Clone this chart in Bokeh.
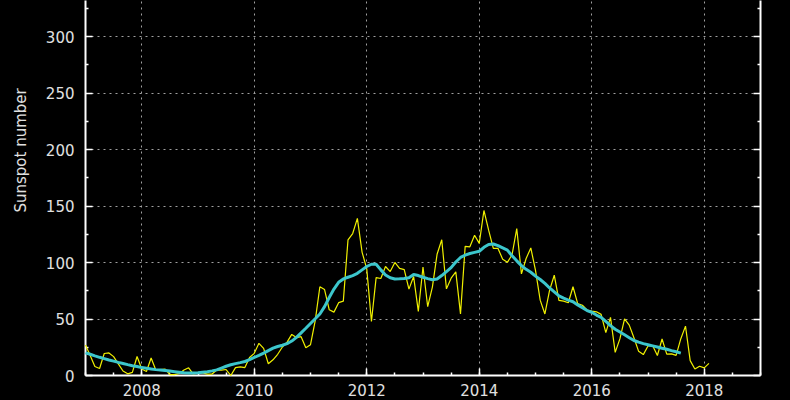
from bokeh.plotting import figure
from bokeh.models import Range1d, LinearAxis, SingleIntervalTicker, FixedTicker, CustomJSTickFormatter, Title
from bokeh.embed import file_html
from bokeh.resources import INLINE

start_year = 2007  # first month: January 2007

# Monthly mean total sunspot number, Jan 2007 .. Feb 2018
monthly_ssn = [
    27.0, 17.7, 8.0, 6.2, 19.5, 20.0, 16.7, 10.3, 4.0, 1.5, 2.8, 16.8,        # 2007
    5.7, 3.5, 15.5, 4.8, 5.3, 5.7, 0.8, 0.8, 1.8, 4.8, 6.8, 1.3,              # 2008
    2.2, 2.3, 1.2, 1.3, 4.8, 4.8, 5.3, 0.0, 7.0, 7.7, 7.0, 15.9,              # 2009
    19.6, 28.5, 24.0, 10.4, 13.9, 18.8, 25.2, 29.6, 36.4, 33.6, 34.4, 24.5,   # 2010
    27.3, 48.3, 78.6, 76.1, 58.2, 56.1, 64.5, 65.8, 120.1, 125.7, 139.1, 109.3,  # 2011
    94.4, 47.8, 86.6, 85.9, 96.5, 92.0, 100.1, 94.8, 93.7, 76.5, 87.6, 56.8,  # 2012
    96.1, 60.9, 78.3, 107.3, 120.2, 76.7, 86.2, 91.8, 54.5, 114.4, 113.9, 124.2,  # 2013
    117.0, 146.1, 128.7, 112.5, 112.5, 102.9, 100.2, 106.9, 130.0, 90.0, 103.6, 112.9,  # 2014
    93.0, 66.7, 54.5, 75.3, 88.8, 66.5, 65.8, 64.4, 78.6, 63.6, 62.2, 58.0,   # 2015
    57.0, 56.4, 54.1, 37.9, 51.5, 20.5, 32.4, 50.2, 44.6, 33.4, 21.4, 18.5,   # 2016
    26.1, 26.4, 17.7, 32.3, 18.9, 19.2, 17.8, 32.6, 43.7, 13.2, 5.7, 8.2,     # 2017
    6.8, 10.7,                                                                # 2018
]

# 13-month smoothed sunspot number, Jan 2007 .. Aug 2017
smoothed_ssn = [
    20.0, 18.8, 17.4, 16.1, 14.9, 13.7, 12.7, 11.6, 10.6, 9.6, 8.7, 7.9,      # 2007
    7.0, 6.4, 5.8, 5.2, 4.8, 4.4, 3.9, 3.4, 2.9, 2.4, 2.2, 2.2,               # 2008
    2.4, 2.9, 3.4, 4.1, 5.0, 6.6, 8.2, 9.5, 10.5, 11.4, 12.4, 14.0,          # 2009
    16.0, 17.8, 19.8, 22.0, 24.2, 25.7, 26.8, 28.2, 30.5, 33.8, 37.8, 41.8,  # 2010
    46.0, 50.2, 54.5, 61.0, 69.0, 76.5, 82.5, 85.5, 87.0, 88.5, 90.5, 93.5,  # 2011
    96.5, 98.5, 98.5, 93.5, 89.0, 86.5, 85.5, 85.6, 85.8, 86.5, 89.4, 88.5,  # 2012
    87.0, 85.8, 84.8, 85.5, 88.5, 92.0, 95.5, 100.5, 104.5, 106.5, 108.0, 109.0,  # 2013
    110.0, 113.5, 116.0, 116.4, 115.0, 113.0, 111.0, 106.0, 101.5, 97.3, 94.0, 91.4,  # 2014
    88.0, 85.0, 81.5, 77.5, 74.0, 70.5, 68.5, 66.8, 65.3, 62.5, 60.0, 57.5,  # 2015
    56.0, 53.5, 51.5, 48.0, 44.2, 41.0, 38.5, 36.0, 33.5, 31.0, 29.5, 28.2,  # 2016
    27.2, 26.2, 25.2, 24.1, 23.2, 22.0, 21.0, 19.8,                          # 2017
]

y_major = [0, 50, 100, 150, 200, 250, 300]
y_minor = [25, 75, 125, 175, 225, 275, 325]
y_label = "Sunspot number"

t_monthly = [start_year + i / 12 for i in range(len(monthly_ssn))]
t_smooth = [start_year + i / 12 for i in range(len(smoothed_ssn))]

FONT = "DejaVu Sans"
LABEL_COLOR = "#e0e0e0"

p = figure(frame_width=675, frame_height=375,
           output_backend="svg", toolbar_location=None,
           x_range=Range1d(2007, 2019), y_range=Range1d(0, 332),
           min_border_left=85, min_border_right=30, min_border_top=0, min_border_bottom=25,
           background_fill_color="black", border_fill_color="black",
           outline_line_color=None)

xt = SingleIntervalTicker(interval=2, num_minor_ticks=4)
yt = FixedTicker(ticks=y_major, minor_ticks=y_minor)
bottom_axis = p.below[0]
left_axis = p.left[0]
bottom_axis.ticker = xt
left_axis.ticker = yt
p.xgrid.ticker = xt
p.ygrid.ticker = yt

for g in (p.xgrid, p.ygrid):
    g.grid_line_color = "#a0a0a0"
    g.grid_line_dash = "2 4"
    g.grid_line_width = 1

right_axis = LinearAxis(ticker=FixedTicker(ticks=y_major, minor_ticks=y_minor),
                        formatter=CustomJSTickFormatter(code="return ''"))
p.add_layout(right_axis, "right")

for ax in (bottom_axis, left_axis, right_axis):
    ax.axis_line_color = "white"
    ax.axis_line_width = 2
    ax.major_tick_line_color = "white"
    ax.major_tick_line_width = 1.5
    ax.major_tick_in = 7
    ax.major_tick_out = 0
    ax.minor_tick_line_color = "white"
    ax.minor_tick_line_width = 1.5
    ax.minor_tick_in = 3
    ax.minor_tick_out = 0
    ax.major_label_text_color = LABEL_COLOR
    ax.major_label_text_font = FONT
    ax.major_label_text_font_size = "15px"

bottom_axis.major_label_standoff = 8
left_axis.major_label_standoff = 11

# y-axis title as a side title, so that it can sit above the frame's centre as in the reference
ytitle = Title(text=y_label, align="left", offset=163, standoff=22, vertical_align="top",
               text_font=FONT, text_font_size="15px", text_font_style="normal",
               text_color=LABEL_COLOR)
p.add_layout(ytitle, "left")

p.line(t_monthly, monthly_ssn, line_color="#f0f000", line_width=1.2, level="overlay")
p.line(t_smooth, smoothed_ssn, line_color="#3cc6cc", line_width=3, level="overlay")

html = file_html(p, INLINE)
style = "<style>html,body{margin:0;padding:0;background:#000;overflow:hidden}</style>"
html = html.replace("<head>", "<head>" + style, 1)
open("out.html", "w").write(html)
